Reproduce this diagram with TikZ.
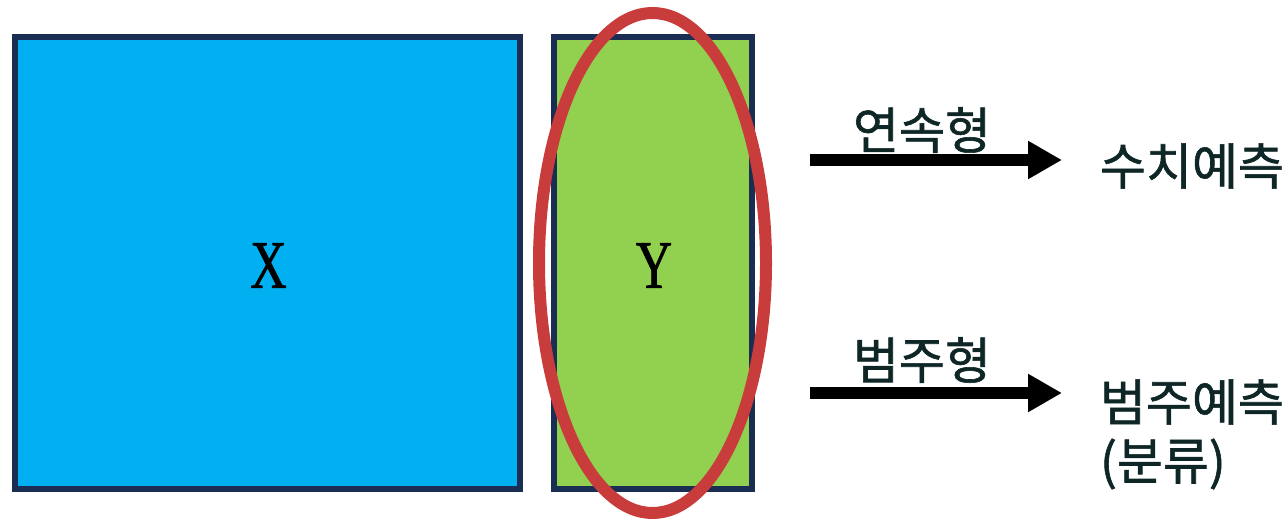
\documentclass[tikz,border=0pt]{standalone}
\usepackage{fontspec}
\usepackage{tikz}
\usetikzlibrary{arrows.meta}
\setmainfont{Liberation Serif}
\newfontfamily\letterfont[FakeStretch=0.74,FakeBold=1]{Liberation Serif}
\newfontfamily\krfont[FakeBold=1.2]{Noto Sans CJK KR}
\definecolor{boxblue}{RGB}{0,176,240}
\definecolor{boxgreen}{RGB}{146,208,80}
\definecolor{boxline}{RGB}{26,46,84}
\definecolor{ringred}{RGB}{200,60,60}
\definecolor{krtext}{RGB}{14,38,38}

\begin{document}
\begin{tikzpicture}[x=1bp,y=-1bp,inner sep=0pt,outer sep=0pt,
  databox/.style={draw=boxline,line width=6bp,minimum height=452bp},
  letter/.style={font=\letterfont\fontsize{68bp}{80bp}\selectfont},
  krlabel/.style={text=krtext,font=\krfont\fontsize{50bp}{60bp}\selectfont},
  bigarrow/.style={line width=12bp,-{Triangle[length=34bp,width=36bp]}}]
  \useasboundingbox (0,0) rectangle (1288,519);
  % data blocks
  \node[databox,fill=boxblue,minimum width=505bp] (xbox) at (267.5,263) {};
  \node[databox,fill=boxgreen,minimum width=198bp] (ybox) at (653,263) {};
  \node[letter] (xname) at (268.5,265.5) {X};
  \node[letter] (yname) at (654,265.5) {Y};
  \draw[ringred,line width=12bp] (652.5,263) ellipse [x radius=113.5bp,y radius=250bp];
  % continuous target
  \coordinate (arrA) at (810,160);
  \coordinate (tipA) at (1062,160);
  \draw[bigarrow] (arrA) -- (tipA);
  \node[krlabel] (kindA) at (922,130) {연속형};
  \node[krlabel,anchor=west] (predA) at (1100,166) {수치예측};
  % categorical target
  \coordinate (arrB) at (810,393);
  \coordinate (tipB) at (1062,393);
  \draw[bigarrow] (arrB) -- (tipB);
  \node[krlabel] (kindB) at (922,360) {범주형};
  \node[krlabel,anchor=west] (predB) at (1100,402) {범주예측};
  \node[krlabel,anchor=west] (predC) at (1100,464) {(분류)};
\end{tikzpicture}
\end{document}
